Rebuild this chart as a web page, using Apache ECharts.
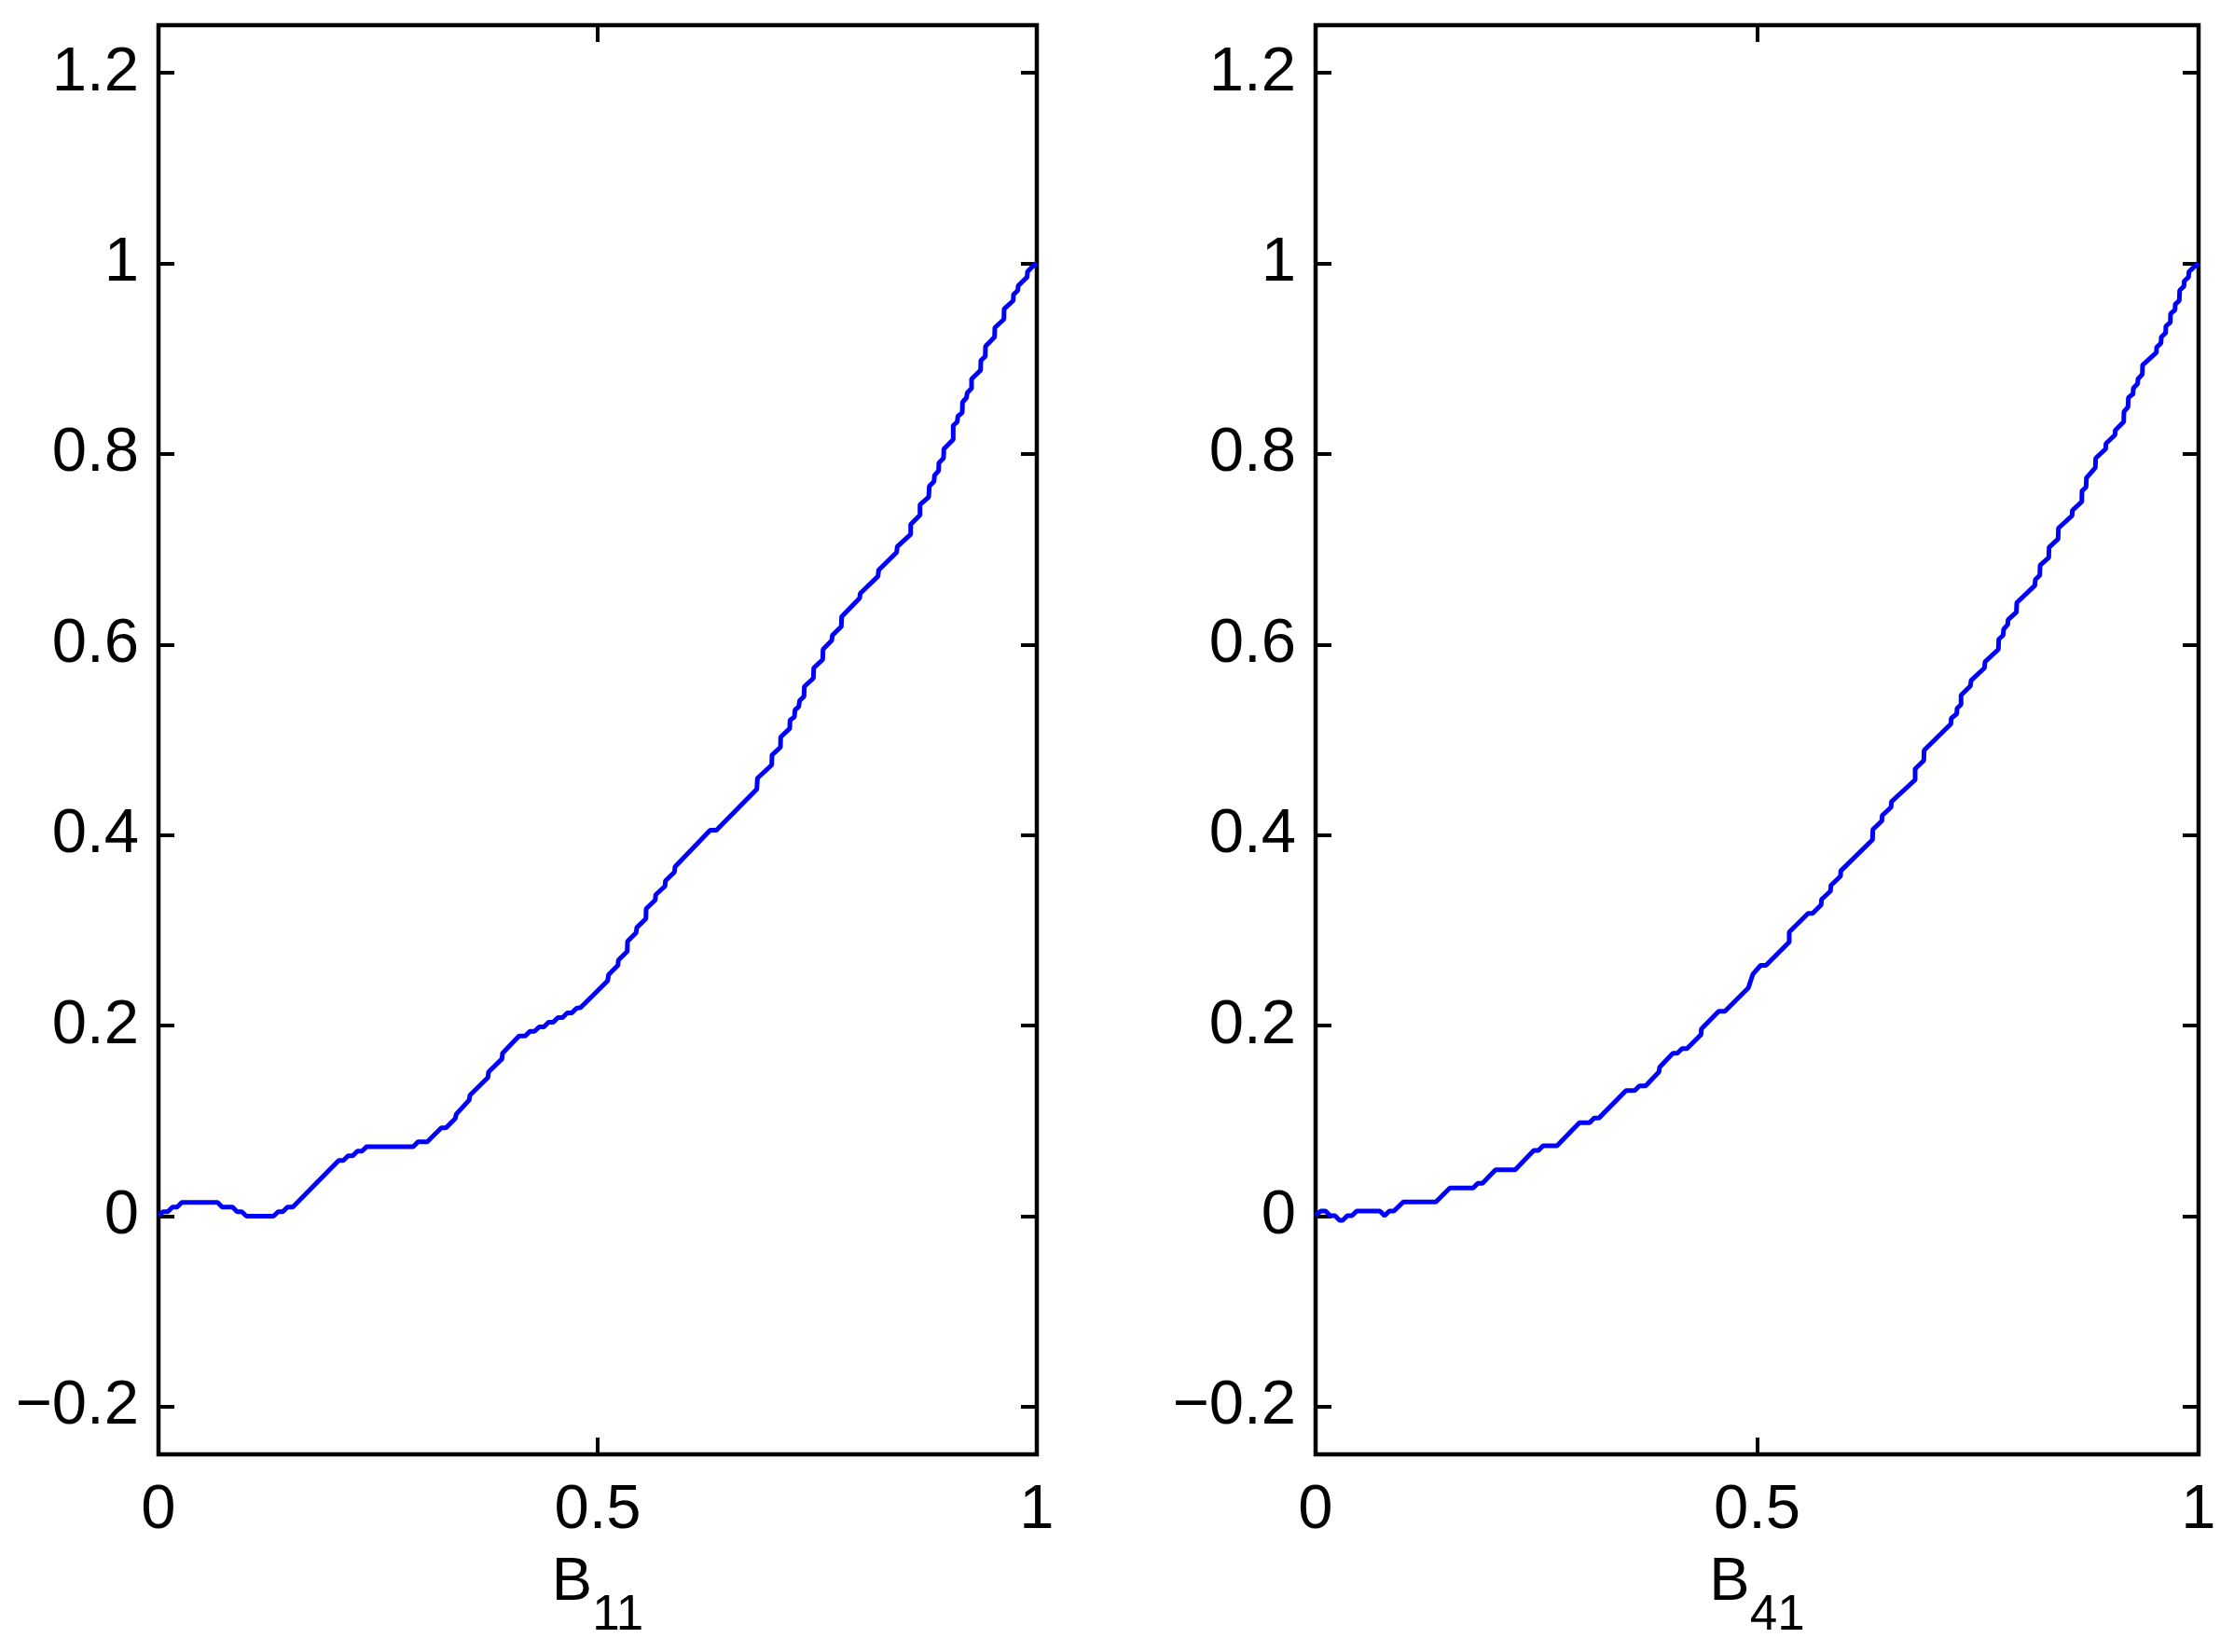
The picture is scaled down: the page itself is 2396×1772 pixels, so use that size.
<!DOCTYPE html>
<html>
<head>
<meta charset="utf-8">
<script src="https://cdn.jsdelivr.net/npm/echarts@6/dist/echarts.min.js"></script>
<style>
html,body{margin:0;padding:0;background:#fff;}
#chart{width:2396px;height:1772px;}
</style>
</head>
<body>
<div id="chart"></div>
<script>
// ---- data ----
const panelNames = ['11', '41'];

const b11X = [0,0.0053,0.0106,0.0159,0.0212,0.0265,0.0672,0.0725,0.0842,0.0895,0.0948,0.1001,0.1309,0.1362,0.1415,0.1468,0.1529,0.2052,0.2105,0.2158,0.2211,0.2264,0.2317,0.2371,0.2901,0.2954,0.306,0.322,0.3273,0.3379,0.339,0.3538,0.3546,0.3751,0.3758,0.391,0.3917,0.4105,0.4175,0.4228,0.4281,0.4334,0.4388,0.4441,0.4494,0.4547,0.46,0.4653,0.4706,0.4759,0.4806,0.5114,0.5124,0.523,0.5237,0.5337,0.534,0.5438,0.5446,0.5549,0.5552,0.5655,0.5661,0.5767,0.5772,0.5874,0.5881,0.6281,0.6352,0.6812,0.6819,0.6982,0.6985,0.7081,0.7084,0.7187,0.719,0.724,0.7247,0.7289,0.73,0.7349,0.7353,0.7456,0.746,0.7562,0.7566,0.7665,0.7672,0.7774,0.7778,0.7983,0.799,0.8192,0.8199,0.8404,0.8411,0.8564,0.8564,0.867,0.867,0.8769,0.8776,0.8829,0.8836,0.8882,0.8885,0.8938,0.8942,0.9048,0.9048,0.9094,0.9101,0.9151,0.9154,0.92,0.9207,0.9257,0.9257,0.936,0.9363,0.9413,0.9416,0.9519,0.9522,0.9625,0.9628,0.9731,0.9735,0.9784,0.9788,0.989,0.9894,0.9944,1];
const b11Y = [0.001,0.0046,0.0046,0.0095,0.0095,0.0144,0.0144,0.0095,0.0095,0.0046,0.0046,0,0,0.0046,0.0046,0.0095,0.0095,0.0584,0.0584,0.0633,0.0633,0.0682,0.0682,0.073,0.073,0.078,0.078,0.0927,0.0927,0.1025,0.107,0.122,0.127,0.1455,0.1514,0.165,0.171,0.189,0.189,0.194,0.194,0.1986,0.1986,0.2035,0.2035,0.2084,0.2084,0.2133,0.2133,0.2182,0.219,0.247,0.2534,0.2632,0.2688,0.2779,0.2884,0.2975,0.303,0.3121,0.3226,0.3317,0.3373,0.3464,0.352,0.361,0.3666,0.405,0.405,0.4481,0.4596,0.4736,0.484,0.4922,0.5029,0.5118,0.5206,0.5239,0.5313,0.5346,0.5411,0.5454,0.5558,0.5646,0.5753,0.5842,0.5949,0.6041,0.6096,0.6188,0.6292,0.6487,0.6536,0.6716,0.6781,0.6967,0.7026,0.7157,0.726,0.7358,0.7466,0.7548,0.7661,0.771,0.7776,0.7825,0.7906,0.7955,0.8053,0.815,0.8297,0.8337,0.8395,0.8434,0.8542,0.8591,0.864,0.8689,0.8787,0.8878,0.8982,0.9022,0.9129,0.9227,0.9325,0.9413,0.9521,0.9609,0.9674,0.9716,0.9765,0.9857,0.9912,0.9961,1];

const b41X = [0,0.006,0.0112,0.0165,0.0219,0.0272,0.0306,0.0359,0.0412,0.0465,0.0728,0.0782,0.0835,0.0887,0.0993,0.1362,0.1521,0.1785,0.1837,0.189,0.2038,0.226,0.2471,0.2524,0.2576,0.2734,0.2988,0.3104,0.3157,0.321,0.3516,0.3615,0.3667,0.3738,0.3889,0.3896,0.4047,0.4097,0.415,0.4206,0.4365,0.4369,0.4565,0.4635,0.49,0.4953,0.504,0.51,0.5364,0.5364,0.5578,0.5628,0.5726,0.573,0.5832,0.5836,0.5945,0.5948,0.6307,0.6311,0.6413,0.6417,0.6518,0.6522,0.679,0.679,0.6888,0.6892,0.7195,0.7199,0.7261,0.7265,0.731,0.731,0.7416,0.7424,0.7575,0.7582,0.7733,0.7737,0.7786,0.7793,0.7839,0.7842,0.7937,0.7941,0.8145,0.8152,0.8202,0.8205,0.8303,0.8307,0.8409,0.8413,0.8567,0.8571,0.8677,0.868,0.8726,0.873,0.8831,0.8835,0.8948,0.8951,0.9053,0.9057,0.9152,0.9155,0.9201,0.9205,0.9258,0.9261,0.931,0.9314,0.9363,0.9366,0.9522,0.9525,0.9574,0.9578,0.9627,0.963,0.968,0.9683,0.9733,0.9736,0.9782,0.9786,0.9834,0.9838,0.9887,0.9891,0.994,1];
const b41Y = [0.001,0.0053,0.0053,0.0004,0.0004,-0.0045,-0.0045,0.0004,0.0004,0.0053,0.0053,0.0004,0.0053,0.0053,0.015,0.015,0.0297,0.0297,0.0346,0.0346,0.0486,0.0486,0.0689,0.0689,0.0738,0.0738,0.0982,0.0982,0.1031,0.1031,0.1318,0.1318,0.1367,0.1367,0.1514,0.1563,0.1709,0.1709,0.1758,0.1758,0.1905,0.1964,0.215,0.215,0.2394,0.2541,0.2632,0.2632,0.2877,0.2981,0.3177,0.3177,0.3268,0.3324,0.3412,0.3471,0.3569,0.3624,0.395,0.4058,0.4149,0.4205,0.4293,0.4351,0.4579,0.4694,0.4782,0.4889,0.5166,0.5225,0.5271,0.533,0.5369,0.5467,0.5565,0.5623,0.5753,0.5819,0.5949,0.6054,0.6096,0.6161,0.621,0.6259,0.634,0.6438,0.6618,0.6683,0.6726,0.683,0.6912,0.7019,0.7107,0.7221,0.7352,0.7407,0.7499,0.7612,0.7652,0.7749,0.7857,0.7955,0.8053,0.8109,0.82,0.8249,0.8337,0.8444,0.8493,0.8591,0.863,0.8689,0.8738,0.8787,0.8836,0.8933,0.9064,0.9119,0.9162,0.9227,0.927,0.9341,0.938,0.9472,0.9511,0.957,0.9609,0.9716,0.9759,0.9814,0.9857,0.9912,0.9955,1];

// axis ranges / ticks
const xRange = [0, 1];
const xTickStep = 0.5;
const yFrameRange = [-0.25, 1.25];
const yTickRange = [-0.2, 1.2];
const yTickStep = 0.2;

// ---- layout ----
const FONT = 'Liberation Sans';
const panels = [
  {left: 170, width: 942},
  {left: 1411, width: 947}
];
const frameTop = 27, frameHeight = 1533;
const unitPx = frameHeight / (yFrameRange[1] - yFrameRange[0]);
const dataTop = frameTop + (yFrameRange[1] - yTickRange[1]) * unitPx;
const dataHeight = (yTickRange[1] - yTickRange[0]) * unitPx;

function fmtNum(v) {
  const a = parseFloat(Math.abs(v).toFixed(3)).toString();
  return (v < -1e-9 ? '\u2212' : '') + a;
}

const tickStyle = {color: '#000', width: 4};
const grid = [], xAxis = [], yAxis = [], series = [];
const seriesData = [
  b11X.map((x, i) => [x, b11Y[i]]),
  b41X.map((x, i) => [x, b41Y[i]])
];

panels.forEach((p, k) => {
  const fg = grid.length;
  grid.push({left: p.left, width: p.width, top: frameTop, height: frameHeight,
    show: true, borderColor: '#000', borderWidth: 4.5, backgroundColor: 'transparent',
    outerBoundsMode: 'none', containLabel: false});
  const dg = grid.length;
  grid.push({left: p.left, width: p.width, top: dataTop, height: dataHeight,
    show: false, outerBoundsMode: 'none', containLabel: false});

  // frame x bottom: ticks, labels, name
  xAxis.push({gridIndex: fg, type: 'value', position: 'bottom', min: xRange[0], max: xRange[1], interval: xTickStep,
    axisLine: {show: false, onZero: false}, splitLine: {show: false},
    axisTick: {show: true, inside: true, length: 18, lineStyle: tickStyle},
    axisLabel: {show: true, margin: 27, color: '#000', fontSize: 67, fontFamily: FONT,
      formatter: fmtNum, showMinLabel: true, showMaxLabel: true, hideOverlap: false},
    name: '{b|B}{s|' + panelNames[k] + '}', nameLocation: 'middle', nameGap: 106,
    nameTextStyle: {color: '#000', fontFamily: FONT,
      rich: {
        b: {fontSize: 65, verticalAlign: 'top', fontFamily: FONT, color: '#000'},
        s: {fontSize: 53, verticalAlign: 'top', padding: [41, 0, 0, 0], fontFamily: FONT, color: '#000'}
      }}
  });
  // frame x top: ticks only
  xAxis.push({gridIndex: fg, type: 'value', position: 'top', min: xRange[0], max: xRange[1], interval: xTickStep,
    axisLine: {show: false, onZero: false}, splitLine: {show: false}, axisLabel: {show: false},
    axisTick: {show: true, inside: true, length: 18, lineStyle: tickStyle}});
  yAxis.push({gridIndex: fg, type: 'value', min: yFrameRange[0], max: yFrameRange[1], show: false,
    axisLine: {onZero: false}});

  const dxi = xAxis.length;
  xAxis.push({gridIndex: dg, type: 'value', min: xRange[0], max: xRange[1], show: false,
    axisLine: {onZero: false}});
  const dyi = yAxis.length;
  yAxis.push({gridIndex: dg, type: 'value', position: 'left', min: yTickRange[0], max: yTickRange[1], interval: yTickStep,
    axisLine: {show: false, onZero: false}, splitLine: {show: false},
    axisTick: {show: true, inside: true, length: 17, lineStyle: tickStyle},
    axisLabel: {show: true, margin: 21, color: '#000', fontSize: 67, fontFamily: FONT,
      formatter: fmtNum, showMinLabel: true, showMaxLabel: true, hideOverlap: false}});
  yAxis.push({gridIndex: dg, type: 'value', position: 'right', min: yTickRange[0], max: yTickRange[1], interval: yTickStep,
    axisLine: {show: false, onZero: false}, splitLine: {show: false}, axisLabel: {show: false},
    axisTick: {show: true, inside: true, length: 17, lineStyle: tickStyle}});

  series.push({type: 'line', xAxisIndex: dxi, yAxisIndex: dyi, data: seriesData[k],
    showSymbol: false, symbol: 'none', smooth: false,
    lineStyle: {color: '#0000ff', width: 5}, itemStyle: {color: '#0000ff'},
    emphasis: {disabled: true}, silent: true});
});

const chart = echarts.init(document.getElementById('chart'), null, {renderer: 'canvas'});
chart.setOption({
  animation: false,
  backgroundColor: '#fff',
  grid, xAxis, yAxis, series
});
</script>
</body>
</html>
